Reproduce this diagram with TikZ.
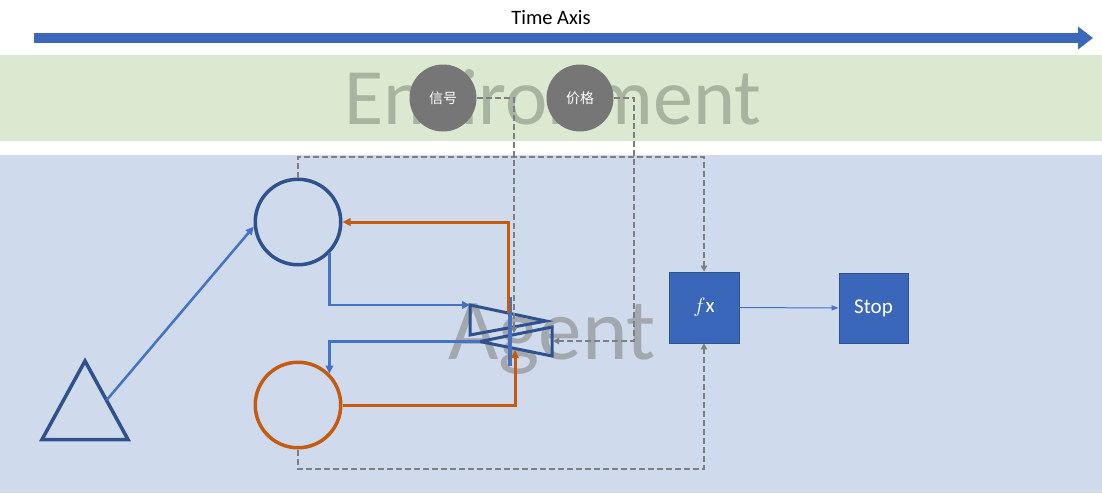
\documentclass[tikz,border=0pt]{standalone}
\usepackage{fontspec}
\setmainfont{Carlito}
\newfontfamily\cjk{Noto Sans CJK SC}
\usetikzlibrary{arrows.meta, calc}

\begin{document}
\begin{tikzpicture}[x=1pt, y=-1pt,
    >={Triangle[length=8pt, width=7.5pt]},
    blueLine/.style={draw=lineBlue, line width=2.5pt},
    orangeLine/.style={draw=orangeColour, line width=3pt},
    dashLine/.style={draw=dashGray, line width=2pt, dash pattern=on 6pt off 3pt,
        >={Triangle[length=6pt, width=6.5pt]}},
    ringNode/.style={circle, minimum size=85.5pt, inner sep=0pt, line width=3.5pt},
    dataNode/.style={circle, minimum size=67pt, inner sep=0pt, fill=circleGray,
        text=white, font=\cjk\fontsize{14}{14}\selectfont},
    boxNode/.style={rectangle, minimum width=70pt, minimum height=71pt, fill=boxBlue,
        draw=darkBlue, line width=0.8pt, text=white, font=\fontsize{21}{21}\selectfont},
    bigLabel/.style={anchor=base, font=\fontsize{80}{80}\selectfont}]
    \definecolor{envGreen}{HTML}{DAE9D0}
    \definecolor{agentBlue}{HTML}{CFDAED}
    \definecolor{envText}{HTML}{A7B4A0}
    \definecolor{agentText}{HTML}{A3A7AE}
    \definecolor{timeBlue}{HTML}{3C68BB}
    \definecolor{lineBlue}{HTML}{4472C4}
    \definecolor{darkBlue}{HTML}{2F528F}
    \definecolor{orangeColour}{HTML}{C55A11}
    \definecolor{circleGray}{HTML}{767676}
    \definecolor{dashGray}{HTML}{7F7F7F}
    \definecolor{boxBlue}{HTML}{3A67BA}

    \useasboundingbox[fill=white] (0,0) rectangle (1102,493);

    % Draw bands
    \fill[envGreen] (0,55) rectangle (1102,141);
    \fill[agentBlue] (0,155) rectangle (1102,493);
    \node[bigLabel, text=envText] (envLabel) at (553,124) {Environment};
    \node[bigLabel, text=agentText, font=\fontsize{87}{87}\selectfont] (agentLabel) at (552,359) {Agent};

    % Time axis
    \coordinate (axisStart) at (34,38);
    \coordinate (axisEnd) at (1093,38);
    \draw[timeBlue, line width=10pt, -{Triangle[length=15pt, width=22pt]}] (axisStart) -- (axisEnd);
    \node[font=\fontsize{20.5}{20.5}\selectfont] (axisLabel) at (551,18) {Time Axis};

    % Nodes
    \node[dataNode] (signal) at (443,98) {信号};
    \node[dataNode] (price) at (580,98) {价格};
    \node[ringNode, draw=darkBlue] (stateCircle) at (298,222) {};
    \node[ringNode, draw=orangeColour] (outcomeCircle) at (298,405) {};
    \node[boxNode] (fxBox) at (704,307.5) {$f$x};
    \node[boxNode, minimum width=69pt, minimum height=70pt] (stopBox) at (873.5,308) {Stop};

    % Triangle
    \coordinate (triLeft) at (42,439.5);
    \coordinate (triTop) at (85,361);
    \coordinate (triRight) at (128,439.5);
    \coordinate (triMid) at ($(triTop)!0.5!(triRight)$);
    \draw[darkBlue, line width=3.5pt] (triLeft) -- (triTop) -- (triRight) -- cycle;

    % Switch
    \coordinate (bowTop) at (470,305);
    \coordinate (bowTip) at (546,321);
    \coordinate (bowBottom) at (470,335);
    \coordinate (backTip) at (480,341.5);
    \coordinate (backTop) at (552,327);
    \coordinate (backBottom) at (552,356);
    \draw[darkBlue, line width=3pt] (bowTop) -- (bowTip) -- (bowBottom) -- cycle;
    \draw[darkBlue, line width=3pt] (backTip) -- (backTop) -- (backBottom) -- cycle;
    \draw[lineBlue, line width=4pt] (510,297) -- (510,366);

    % Blue connectors
    \draw[blueLine, ->] (triMid) -- (stateCircle.186);
    \draw[blueLine, ->] (stateCircle.-45) |- (bowTop);
    \draw[blueLine, ->] (backTip) -| (outcomeCircle.45);

    % Orange connectors
    \coordinate (orangeIn) at (515,350);
    \coordinate (orangeOut) at (508,313);
    \draw[orangeLine, ->] (outcomeCircle.east) -| (orangeIn);
    \draw[orangeLine, ->] (orangeOut) |- (stateCircle.east);

    % Dashed connectors
    \coordinate (signalIn) at (514,333);
    \coordinate (priceTurn) at (634,341);
    \coordinate (priceIn) at (553,341);
    \draw[dashLine, ->] (signal.east) -| (signalIn);
    \draw[dashLine, ->] (price.east) -| (priceTurn) -- (priceIn);
    \draw[dashLine, ->] (stateCircle.north) -- ++(0,-21) -| (fxBox.north);
    \draw[dashLine, ->] (outcomeCircle.south) -- ++(0,19) -| (fxBox.south);

    % Output
    \draw[lineBlue, line width=1pt, -{Triangle[length=7pt, width=5pt]}] (fxBox) -- (stopBox);
\end{tikzpicture}
\end{document}
